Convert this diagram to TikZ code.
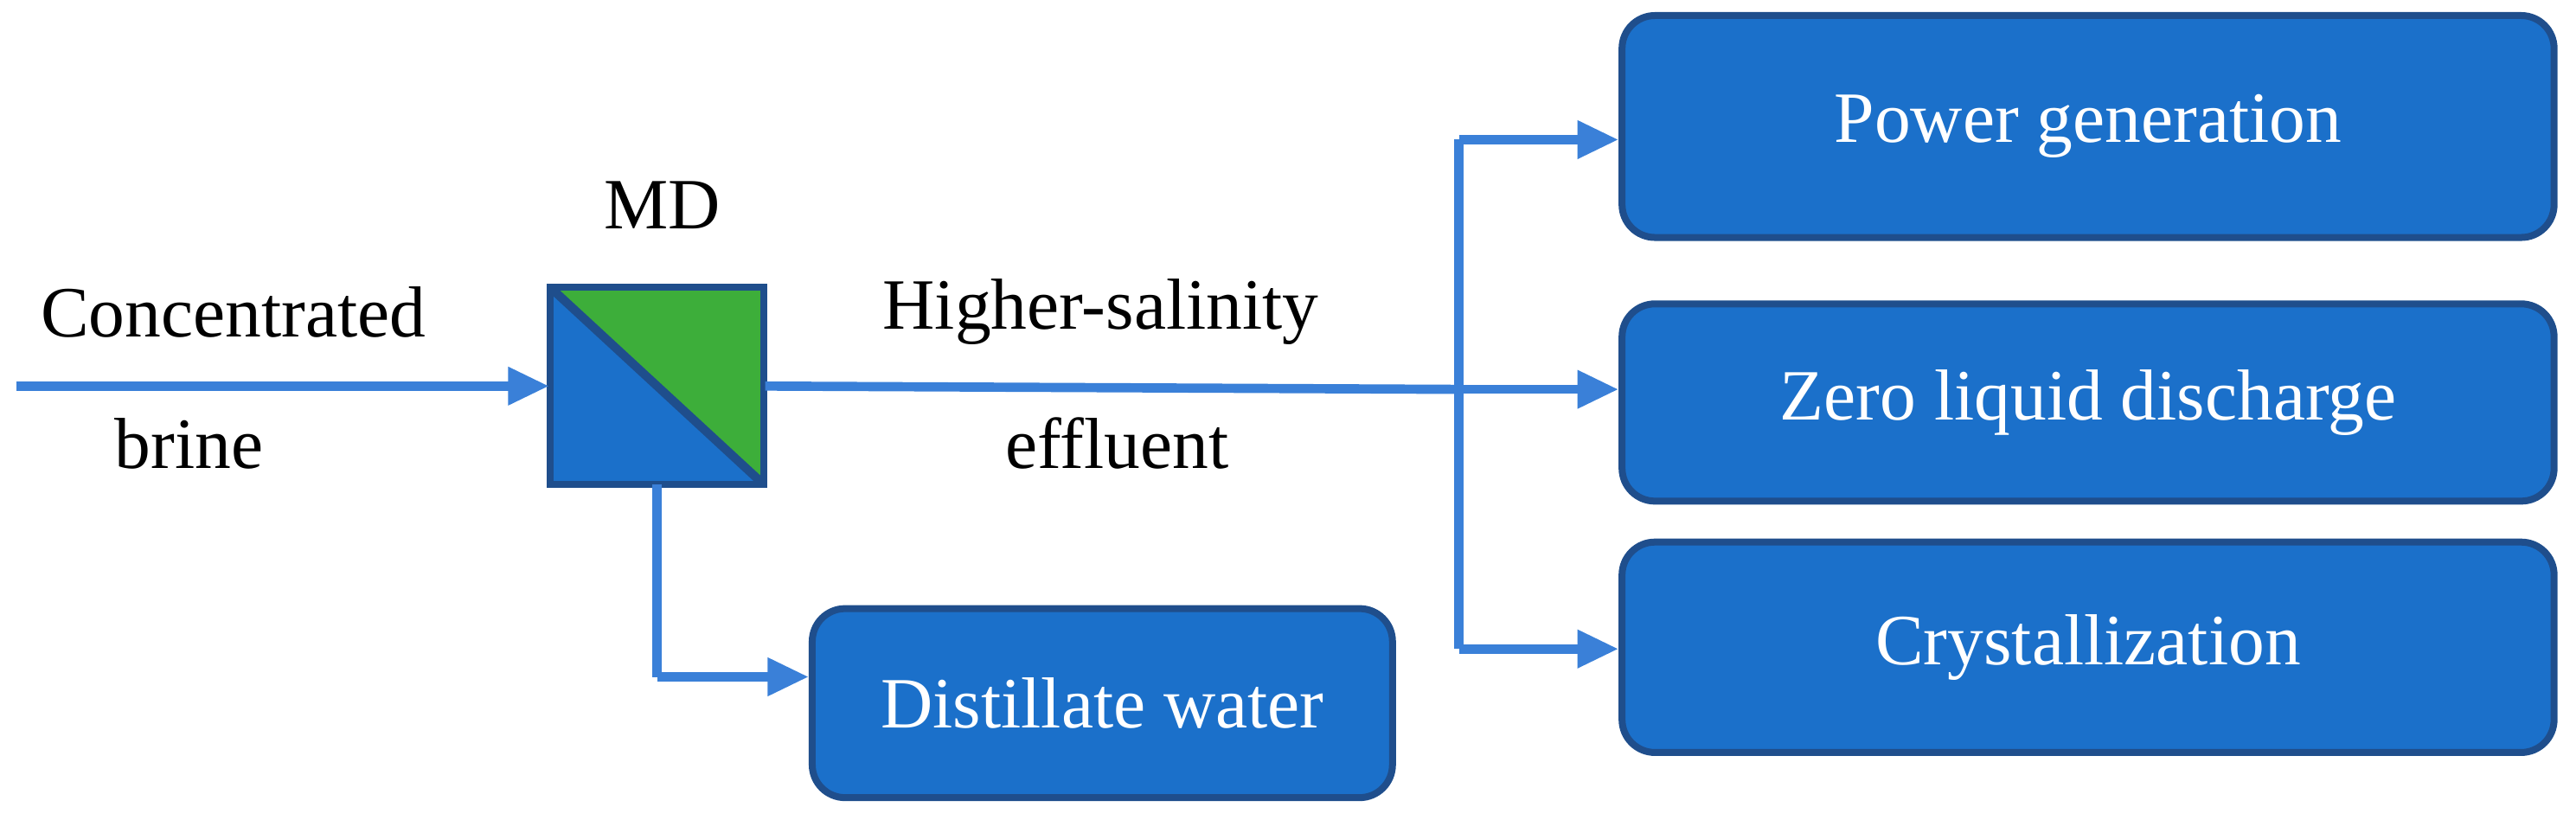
\documentclass[tikz,border=0pt]{standalone}
\usepackage{fontspec}
\setmainfont{Liberation Serif}
\usetikzlibrary{arrows.meta}
\definecolor{boxblue}{HTML}{1B70CA}
\definecolor{boxedge}{HTML}{1F4E8C}
\definecolor{linblue}{HTML}{3A80D8}
\definecolor{mdgreen}{HTML}{3DAE3A}
\begin{document}
\begin{tikzpicture}[x=0.01cm,y=-0.01cm,
  box/.style={draw=boxedge,line width=1.2pt,fill=boxblue,rounded corners=0.2cm,text=white,font=\fontsize{12.5}{14}\selectfont},
  flow/.style={draw=linblue,line width=1.6pt},
  arr/.style={flow,-{Triangle[length=0.25cm,width=0.22cm]}},
  lab/.style={font=\fontsize{12.5}{14}\selectfont}]
\useasboundingbox (0,0) rectangle (1568,499);
% MD unit
\fill[boxblue] (335,175) rectangle (465,295);
\fill[mdgreen] (335,175) -- (465,175) -- (465,295) -- cycle;
\draw[boxedge,line width=1.2pt] (335,175) rectangle (465,295);
\draw[boxedge,line width=1.5pt] (335,175) -- (465,295);
\node[inner sep=0, minimum width=1.3cm, minimum height=1.2cm] (md) at (400,235) {};
\node[lab] (mdl) at (403,125) {MD};
% boxes
\node[box,minimum width=5.67cm,minimum height=1.35cm] (pg) at (1271,77) {Power generation};
\node[box,minimum width=5.67cm,minimum height=1.2cm] (zl) at (1271,245) {Zero liquid discharge};
\node[box,minimum width=5.67cm,minimum height=1.28cm] (cr) at (1271,394) {Crystallization};
\node[box,minimum width=3.53cm,minimum height=1.15cm] (dw) at (671,428) {Distillate water};
% labels
\node[lab] (l1) at (142,190) {Concentrated};
\node[lab] (l2) at (115,270) {brine};
\node[lab] (l3) at (670,190) {Higher-salinity};
\node[lab] (l4) at (680,270) {effluent};
% connectors
\coordinate (in) at (10,235);
\coordinate (j) at (888,237);
\coordinate (jt) at (888,85);
\coordinate (jb) at (888,395);
\coordinate (d1) at (400,295);
\coordinate (d2) at (400,412);
\draw[arr] (in) -- (md.west);
\draw[flow] (md.east) -- (j);
\draw[flow] (jt) -- (jb);
\draw[arr] (jt) -- (pg.west|-jt);
\draw[arr] (j) -- (zl.west|-j);
\draw[arr] (jb) -- (cr.west|-jb);
\draw[flow] (d1) -- (d2);
\draw[arr] (d2) -- (dw.west|-d2);
\end{tikzpicture}
\end{document}
